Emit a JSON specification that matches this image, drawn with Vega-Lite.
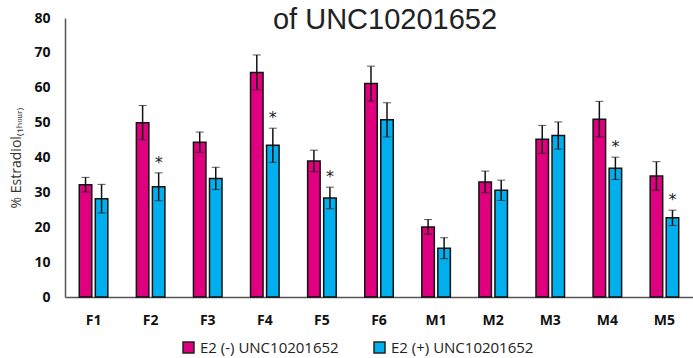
{
  "$schema": "https://vega.github.io/schema/vega-lite/v6.json",
  "autosize": "none",
  "width": 628,
  "height": 279,
  "padding": {"left": 65, "top": 18, "right": 0, "bottom": 61},
  "background": "white",
  "title": {"text": "of UNC10201652", "font": "Liberation Sans", "fontSize": 29, "fontWeight": "normal", "color": "#222", "anchor": "middle", "offset": -24, "dx": 6},
  "config": {"view": {"stroke": null}, "font": "Open Sans",
    "axisY": {"title": "% Estradiol₍₁ₕₒᵤᵣ₎", "titleFont": "Open Sans", "titleFontWeight": "normal", "titleFontSize": 14, "titleColor": "#333", "titlePadding": 10,
      "values": [0, 10, 20, 30, 40, 50, 60, 70, 80], "labelOverlap": false, "grid": false, "ticks": false, "labelPadding": 15,
      "labelFont": "Open Sans", "labelFontWeight": "bold", "labelFontSize": 14, "labelColor": "#111", "domainColor": "#555", "domainWidth": 1.5}},
  "data": {"values": [
    {"group": "F1", "treat": "E2 (-) UNC10201652", "value": 32.2, "err": 2.1, "sig": ""},
    {"group": "F1", "treat": "E2 (+) UNC10201652", "value": 28.2, "err": 4.1, "sig": ""},
    {"group": "F2", "treat": "E2 (-) UNC10201652", "value": 50.0, "err": 4.9, "sig": ""},
    {"group": "F2", "treat": "E2 (+) UNC10201652", "value": 31.6, "err": 4.0, "sig": "*"},
    {"group": "F3", "treat": "E2 (-) UNC10201652", "value": 44.4, "err": 2.9, "sig": ""},
    {"group": "F3", "treat": "E2 (+) UNC10201652", "value": 34.0, "err": 3.2, "sig": ""},
    {"group": "F4", "treat": "E2 (-) UNC10201652", "value": 64.4, "err": 5.0, "sig": ""},
    {"group": "F4", "treat": "E2 (+) UNC10201652", "value": 43.5, "err": 4.9, "sig": "*"},
    {"group": "F5", "treat": "E2 (-) UNC10201652", "value": 39.0, "err": 3.1, "sig": ""},
    {"group": "F5", "treat": "E2 (+) UNC10201652", "value": 28.4, "err": 3.1, "sig": "*"},
    {"group": "F6", "treat": "E2 (-) UNC10201652", "value": 61.2, "err": 5.0, "sig": ""},
    {"group": "F6", "treat": "E2 (+) UNC10201652", "value": 50.8, "err": 4.9, "sig": ""},
    {"group": "M1", "treat": "E2 (-) UNC10201652", "value": 20.1, "err": 2.1, "sig": ""},
    {"group": "M1", "treat": "E2 (+) UNC10201652", "value": 14.0, "err": 3.0, "sig": ""},
    {"group": "M2", "treat": "E2 (-) UNC10201652", "value": 33.0, "err": 3.1, "sig": ""},
    {"group": "M2", "treat": "E2 (+) UNC10201652", "value": 30.6, "err": 2.9, "sig": ""},
    {"group": "M3", "treat": "E2 (-) UNC10201652", "value": 45.2, "err": 4.0, "sig": ""},
    {"group": "M3", "treat": "E2 (+) UNC10201652", "value": 46.3, "err": 3.9, "sig": ""},
    {"group": "M4", "treat": "E2 (-) UNC10201652", "value": 51.0, "err": 5.1, "sig": ""},
    {"group": "M4", "treat": "E2 (+) UNC10201652", "value": 36.9, "err": 3.2, "sig": "*"},
    {"group": "M5", "treat": "E2 (-) UNC10201652", "value": 34.7, "err": 4.1, "sig": ""},
    {"group": "M5", "treat": "E2 (+) UNC10201652", "value": 22.7, "err": 2.2, "sig": "*"}
  ]},
  "transform": [
    {"calculate": "datum.value - datum.err", "as": "lo"},
    {"calculate": "datum.value + datum.err", "as": "hi"}
  ],
  "encoding": {
    "x": {"field": "group", "type": "nominal", "sort": null,
      "scale": {"paddingInner": 0.5, "paddingOuter": 0.25},
      "axis": {"title": null, "labelAngle": 0, "labelFont": "Open Sans", "labelFontWeight": "bold", "labelFontSize": 14, "labelColor": "#111", "labelPadding": 16, "ticks": false, "domainColor": "#555", "domainWidth": 1.5}},
    "xOffset": {"field": "treat", "type": "nominal", "sort": ["E2 (-) UNC10201652", "E2 (+) UNC10201652"], "scale": {"paddingInner": 0.22}}
  },
  "layer": [
    {
      "mark": {"type": "bar", "stroke": "#111", "strokeWidth": 1.5},
      "encoding": {
        "y": {"field": "value", "type": "quantitative", "scale": {"domain": [0, 80]}, "title": "% Estradiol₍₁ₕₒᵤᵣ₎"},
        "color": {"field": "treat", "type": "nominal",
          "scale": {"domain": ["E2 (-) UNC10201652", "E2 (+) UNC10201652"], "range": ["#E0007F", "#00B0EE"]},
          "legend": {"title": null, "orient": "none", "legendX": 116, "legendY": 322, "direction": "horizontal", "symbolType": "square", "symbolSize": 120, "symbolStrokeColor": "#222", "symbolStrokeWidth": 1.5, "labelFont": "Open Sans", "labelFontSize": 15, "labelColor": "#222", "columnPadding": 32}}
      }
    },
    {
      "mark": {"type": "rule", "color": "#111", "strokeWidth": 1.5},
      "encoding": {
        "y": {"field": "lo", "type": "quantitative", "title": "% Estradiol₍₁ₕₒᵤᵣ₎"},
        "y2": {"field": "hi"}
      }
    },
    {
      "mark": {"type": "tick", "color": "#111", "strokeWidth": 1.5, "size": 8, "orient": "horizontal"},
      "encoding": {"y": {"field": "lo", "type": "quantitative", "title": "% Estradiol₍₁ₕₒᵤᵣ₎"}}
    },
    {
      "mark": {"type": "tick", "color": "#111", "strokeWidth": 1.5, "size": 8, "orient": "horizontal"},
      "encoding": {"y": {"field": "hi", "type": "quantitative", "title": "% Estradiol₍₁ₕₒᵤᵣ₎"}}
    },
    {
      "transform": [{"filter": "datum.sig != ''"}],
      "mark": {"type": "text", "fontSize": 16, "font": "DejaVu Sans", "color": "#222", "dy": -2, "baseline": "bottom"},
      "encoding": {
        "y": {"field": "hi", "type": "quantitative", "title": "% Estradiol₍₁ₕₒᵤᵣ₎"},
        "text": {"field": "sig"}
      }
    }
  ]
}
